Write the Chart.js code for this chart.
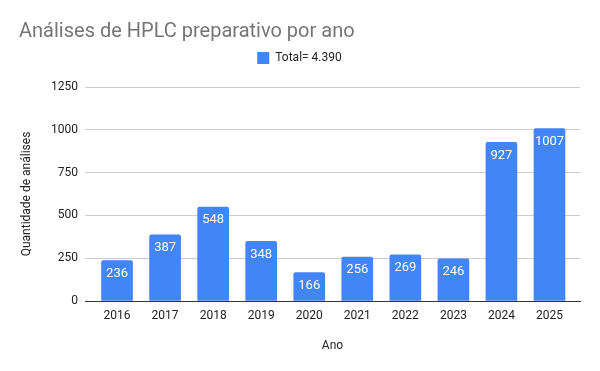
<!DOCTYPE html>
<html lang="pt">
<head>
    <meta charset="UTF-8">
    <title>Análises de HPLC preparativo por ano</title>
    <script src="https://cdn.jsdelivr.net/npm/chart.js"></script>
    <style>
        body { margin: 0; background: white; }
        .wrap { width: 600px; height: 371px; }
    </style>
</head>
<body>
    <div class="wrap"><canvas id="hplcChart"></canvas></div>

    <script>
        // data
        const years = [2016, 2017, 2018, 2019, 2020, 2021, 2022, 2023, 2024, 2025];
        const analyses = [236, 387, 548, 348, 166, 256, 269, 246, 927, 1007];
        const seriesLabel = 'Total= 4.390';
        const yTicks = [0, 250, 500, 750, 1000, 1250];

        const font = 'Roboto, "Noto Sans", sans-serif';

        // white value labels inside top of each bar
        const barValues = {
            id: 'barValues',
            afterDatasetsDraw(chart) {
                const ctx = chart.ctx;
                const meta = chart.getDatasetMeta(0);
                ctx.save();
                ctx.fillStyle = '#ffffff';
                ctx.font = '13px ' + font;
                ctx.textAlign = 'center';
                ctx.textBaseline = 'middle';
                meta.data.forEach((bar, i) => {
                    ctx.fillText(String(analyses[i]), bar.x, bar.y + 13);
                });
                ctx.restore();
            }
        };

        // extra space under the legend
        const legendGap = {
            id: 'legendGap',
            beforeInit(chart) {
                const fit = chart.legend.fit;
                chart.legend.fit = function () {
                    fit.bind(chart.legend)();
                    this.height += 13;
                };
            }
        };

        new Chart(document.getElementById('hplcChart'), {
            type: 'bar',
            data: {
                datasets: [{
                    label: seriesLabel,
                    data: years.map((y, i) => ({ x: y, y: analyses[i] })),
                    backgroundColor: '#4285F4',
                    borderWidth: 0,
                    borderRadius: { topLeft: 2, topRight: 2 },
                    borderSkipped: 'bottom',
                    barThickness: 31
                }]
            },
            options: {
                responsive: true,
                maintainAspectRatio: false,
                animation: false,
                layout: { padding: { top: 20, left: 19, right: 20, bottom: 0 } },
                plugins: {
                    title: {
                        display: true,
                        text: 'Análises de HPLC preparativo por ano',
                        align: 'start',
                        color: '#757575',
                        font: { family: font, size: 20, weight: 'normal' },
                        padding: { top: 0, bottom: 0 }
                    },
                    legend: {
                        display: true,
                        labels: {
                            color: '#222222',
                            font: { family: font, size: 12 },
                            boxWidth: 12,
                            boxHeight: 12,
                            padding: 8
                        }
                    },
                    tooltip: { enabled: false }
                },
                scales: {
                    x: {
                        type: 'linear',
                        offset: false,
                        min: 2015.333,
                        max: 2025.635,
                        afterBuildTicks: scale => { scale.ticks = years.map(v => ({ value: v })); },
                        afterFit: scale => { scale.height = 70; },
                        grid: { display: false, drawTicks: false },
                        border: { display: true, color: '#333333', width: 1 },
                        ticks: {
                            color: '#222222',
                            font: { family: font, size: 12 },
                            padding: 8,
                            maxRotation: 0,
                            autoSkip: false,
                            callback: v => String(v)
                        },
                        title: {
                            display: true,
                            text: 'Ano',
                            color: '#222222',
                            font: { family: font, size: 12 },
                            padding: { top: 18, bottom: 18 }
                        }
                    },
                    y: {
                        min: 0,
                        max: 1250,
                        afterBuildTicks: scale => { scale.ticks = yTicks.map(v => ({ value: v })); },
                        afterFit: scale => { scale.width = 66; },
                        grid: { color: '#cccccc', drawTicks: false },
                        border: { display: false },
                        ticks: {
                            color: '#222222',
                            font: { family: font, size: 12 },
                            padding: 7,
                            callback: v => String(v)
                        },
                        title: {
                            display: true,
                            text: 'Quantidade de análises',
                            color: '#222222',
                            font: { family: font, size: 12 },
                            padding: { top: 1, bottom: 1 }
                        }
                    }
                }
            },
            plugins: [barValues, legendGap]
        });
    </script>
</body>
</html>
